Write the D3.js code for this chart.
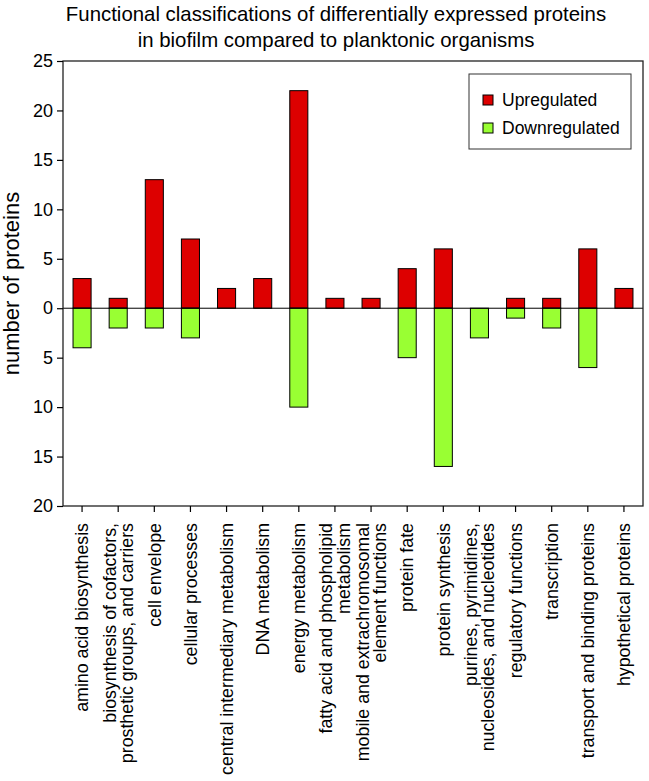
<!DOCTYPE html>
<html><head><meta charset="utf-8">
<script src="https://cdn.jsdelivr.net/npm/d3@7"></script>
<style>body{margin:0;background:#fff;} svg{display:block;} text{font-family:"Liberation Sans",Arial,sans-serif;fill:#000;}</style>
</head><body>
<svg id="chart" width="649" height="781"></svg>
<script>
const categories = [
  ["amino acid biosynthesis"],
  ["biosynthesis of cofactors,", "prosthetic groups, and carriers"],
  ["cell envelope"],
  ["cellular processes"],
  ["central intermediary metabolism"],
  ["DNA metabolism"],
  ["energy metabolism"],
  ["fatty acid and phospholipid", "metabolism"],
  ["mobile and extrachromosomal", "element functions"],
  ["protein fate"],
  ["protein synthesis"],
  ["purines, pyrimidines,", "nucleosides, and nucleotides"],
  ["regulatory functions"],
  ["transcription"],
  ["transport and binding proteins"],
  ["hypothetical proteins"]
];
const upregulated   = [3, 1, 13, 7, 2, 3, 22, 1, 1, 4, 6, 0, 1, 1, 6, 2];
const downregulated = [4, 2, 2, 3, 0, 0, 10, 0, 0, 5, 16, 3, 1, 2, 6, 0];
const yTicks = [25, 20, 15, 10, 5, 0, -5, -10, -15, -20];
const seriesNames = ["Upregulated", "Downregulated"];
const colors = ["#dd0000", "#99ff33"];
const titleLines = ["Functional classifications of differentially expressed proteins",
                    "in biofilm compared to planktonic organisms"];
const yTitle = "number of proteins";

const svg = d3.select("#chart");
const L = 63, R = 643, T = 61, B = 506;
const keys = categories.map((c, i) => i);
const x = d3.scaleBand().domain(keys).range([64, 642]).paddingInner(0.5).paddingOuter(0.25);
const y = d3.scaleLinear().domain([-20, 25]).range([B, T]);

// title
svg.append("g").selectAll("text").data(titleLines).join("text")
  .attr("x", 336).attr("y", (d, i) => 21 + i * 25.5)
  .attr("text-anchor", "middle").attr("font-size", 20.4).text(d => d);

// bars
const upData = upregulated.map((v, i) => ({i, v})).filter(d => d.v > 0);
const downData = downregulated.map((v, i) => ({i, v})).filter(d => d.v > 0);
const g = svg.append("g");
g.selectAll("rect.up").data(upData).join("rect").attr("class", "up")
  .attr("x", d => x(d.i)).attr("width", x.bandwidth())
  .attr("y", d => y(d.v)).attr("height", d => y(0) - y(d.v))
  .attr("fill", colors[0]).attr("stroke", "#000").attr("stroke-width", 1);
g.selectAll("rect.down").data(downData).join("rect").attr("class", "down")
  .attr("x", d => x(d.i)).attr("width", x.bandwidth())
  .attr("y", y(0)).attr("height", d => y(-d.v) - y(0))
  .attr("fill", colors[1]).attr("stroke", "#000").attr("stroke-width", 1);

// zero line
svg.append("line").attr("x1", L).attr("x2", R).attr("y1", y(0)).attr("y2", y(0))
  .attr("stroke", "#000").attr("stroke-width", 1);

// frame
svg.append("rect").attr("x", L).attr("y", T).attr("width", R - L).attr("height", B - T)
  .attr("fill", "none").attr("stroke", "#222").attr("stroke-width", 1.3);

// y axis
const yAxis = d3.axisLeft(y).tickValues(yTicks).tickSize(6).tickPadding(4)
  .tickFormat(d => Math.abs(d));
const ya = svg.append("g").attr("transform", `translate(${L},0)`).call(yAxis);
ya.select(".domain").remove();
ya.selectAll("text").attr("font-size", 18).attr("font-family", '"Liberation Sans",Arial,sans-serif');
ya.selectAll("line").attr("stroke", "#000").attr("stroke-width", 1.2);

// x axis
const xAxis = d3.axisBottom(x).tickSize(6).tickFormat("");
const xa = svg.append("g").attr("transform", `translate(0,${B})`).call(xAxis);
xa.select(".domain").remove();
xa.selectAll("line").attr("stroke", "#000").attr("stroke-width", 1.2);
xa.selectAll(".tick").each(function(d) {
  const lines = categories[d];
  const n = lines.length;
  const t = d3.select(this).append("text")
    .attr("transform", "translate(0,17) rotate(-90)")
    .attr("text-anchor", "end").attr("font-size", 17.8).attr("fill", "#000");
  lines.forEach((ln, k) => {
    t.append("tspan").attr("x", 0)
      .attr("y", (k - (n - 1) / 2) * 17.5)
      .attr("dy", "0.35em")
      .text(ln);
  });
});

// y title
svg.append("text").attr("transform", `translate(19,${(T + B) / 2}) rotate(-90)`)
  .attr("text-anchor", "middle").attr("font-size", 22).text(yTitle);

// legend
const lg = svg.append("g");
lg.append("rect").attr("x", 469).attr("y", 74).attr("width", 162).attr("height", 75)
  .attr("fill", "#fff").attr("stroke", "#333").attr("stroke-width", 1);
seriesNames.forEach((s, i) => {
  lg.append("rect").attr("x", 483).attr("y", 95 + i * 28).attr("width", 10).attr("height", 10)
    .attr("fill", colors[i]).attr("stroke", "#000").attr("stroke-width", 1);
  lg.append("text").attr("x", 502).attr("y", 100 + i * 28).attr("dy", "0.35em")
    .attr("font-size", 17.5).text(s);
});
</script>
</body></html>
